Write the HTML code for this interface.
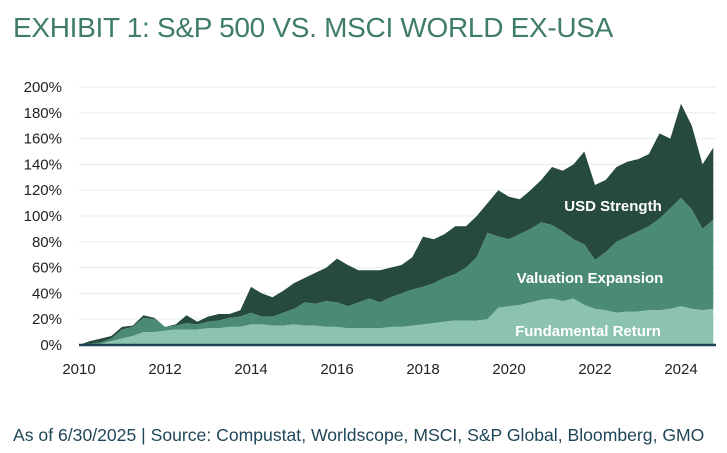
<!DOCTYPE html>
<html><head><meta charset="utf-8"><style>
body{margin:0;background:#fff;width:727px;height:453px;overflow:hidden;font-family:"Liberation Sans",sans-serif}
#title{position:absolute;left:13px;top:12px;font-size:28px;color:#3f7d68;letter-spacing:-0.3px;white-space:nowrap}
#note{position:absolute;left:13px;top:425px;font-size:17.6px;color:#1f4658;white-space:nowrap}
svg{position:absolute;left:0;top:0}
</style></head><body>
<div id="title">EXHIBIT 1: S&amp;P 500 VS. MSCI WORLD EX-USA</div>
<div id="note">As of 6/30/2025 | Source: Compustat, Worldscope, MSCI, S&amp;P Global, Bloomberg, GMO</div>
<svg id="chart" width="727" height="453"></svg>
<script>
const startYear = 2010;
const stepYears = 0.25;
const fundamentalCum = [0,0,1,3,5,7,10,10,11,12,12,12,13,13,14,14,16,16,15,15,16,15,15,14,14,13,13,13,13,14,14,15,16,17,18,19,19,19,20,29,30,31,33,35,36,34,36,31,28,27,25,26,26,27,27,28,30,28,27,28];
const valuationCum = [0,1,2,5,12,14,21,20,14,15,17,16,18,19,21,22,25,22,22,25,28,33,32,34,33,30,33,36,33,37,40,43,45,48,52,55,60,68,87,84,82,86,90,95,93,88,82,78,66,72,80,84,88,92,98,106,114,105,90,97];
const totalCum = [0,3,5,7,14,15,23,21,14,16,23,18,22,24,24,27,45,40,37,42,48,52,56,60,67,62,58,58,58,60,62,68,84,82,86,92,92,100,110,120,115,113,120,128,138,135,140,150,124,128,138,142,144,148,164,160,187,170,140,153];
const yTicks = [0,20,40,60,80,100,120,140,160,180,200];
const xTicks = [2010,2012,2014,2016,2018,2020,2022,2024];

const svg = document.getElementById('chart');
const NS = 'http://www.w3.org/2000/svg';
const X = yr => 79 + (yr - 2010) * 43;
const Y = v => 345 - v * 1.29;
function mk(tag, attrs){const e=document.createElementNS(NS,tag);for(const k in attrs)e.setAttribute(k,attrs[k]);svg.appendChild(e);return e;}

yTicks.forEach(t=>{
  const g = mk('line',{x1:79,x2:716,y1:Y(t),y2:Y(t),stroke:'#e9eff5','stroke-width':1.2});
  
  
  const l = mk('text',{x:62,y:Y(t)+5,'text-anchor':'end','font-size':15,fill:'#222'});
  l.textContent = t+'%';
  
  
});
xTicks.forEach(t=>{
  const l = mk('text',{x:X(t),y:374,'text-anchor':'middle','font-size':15,fill:'#222'});
  l.textContent = t;
  
  
});

function area(top, bottom, color, name){
  let d='';
  top.forEach((v,i)=>{d+=(i?'L':'M')+X(startYear+i*stepYears).toFixed(1)+','+Y(v).toFixed(1);});
  for(let i=bottom.length-1;i>=0;i--){d+='L'+X(startYear+i*stepYears).toFixed(1)+','+Y(bottom[i]).toFixed(1);}
  const p = mk('path',{d:d+'Z',fill:color});
  
  
}
const zeros = totalCum.map(()=>0);
area(totalCum, valuationCum, '#264a3d', 'usd-strength-area');
area(valuationCum, fundamentalCum, '#4b8b75', 'valuation-expansion-area');
area(fundamentalCum, zeros, '#8bc2b0', 'fundamental-return-area');

const base = mk('line',{x1:79,x2:716,y1:345,y2:345,stroke:'#1d4556','stroke-width':2.5});



[['USD Strength',613,211,'usd-strength-label'],['Valuation Expansion',590,283,'valuation-expansion-label'],['Fundamental Return',588,336,'fundamental-return-label']].forEach(a=>{
  const t = mk('text',{x:a[1],y:a[2],'text-anchor':'middle','font-size':15,'font-weight':'bold',fill:'#fff'});
  t.textContent = a[0];
  
  
});
</script>
</body></html>
